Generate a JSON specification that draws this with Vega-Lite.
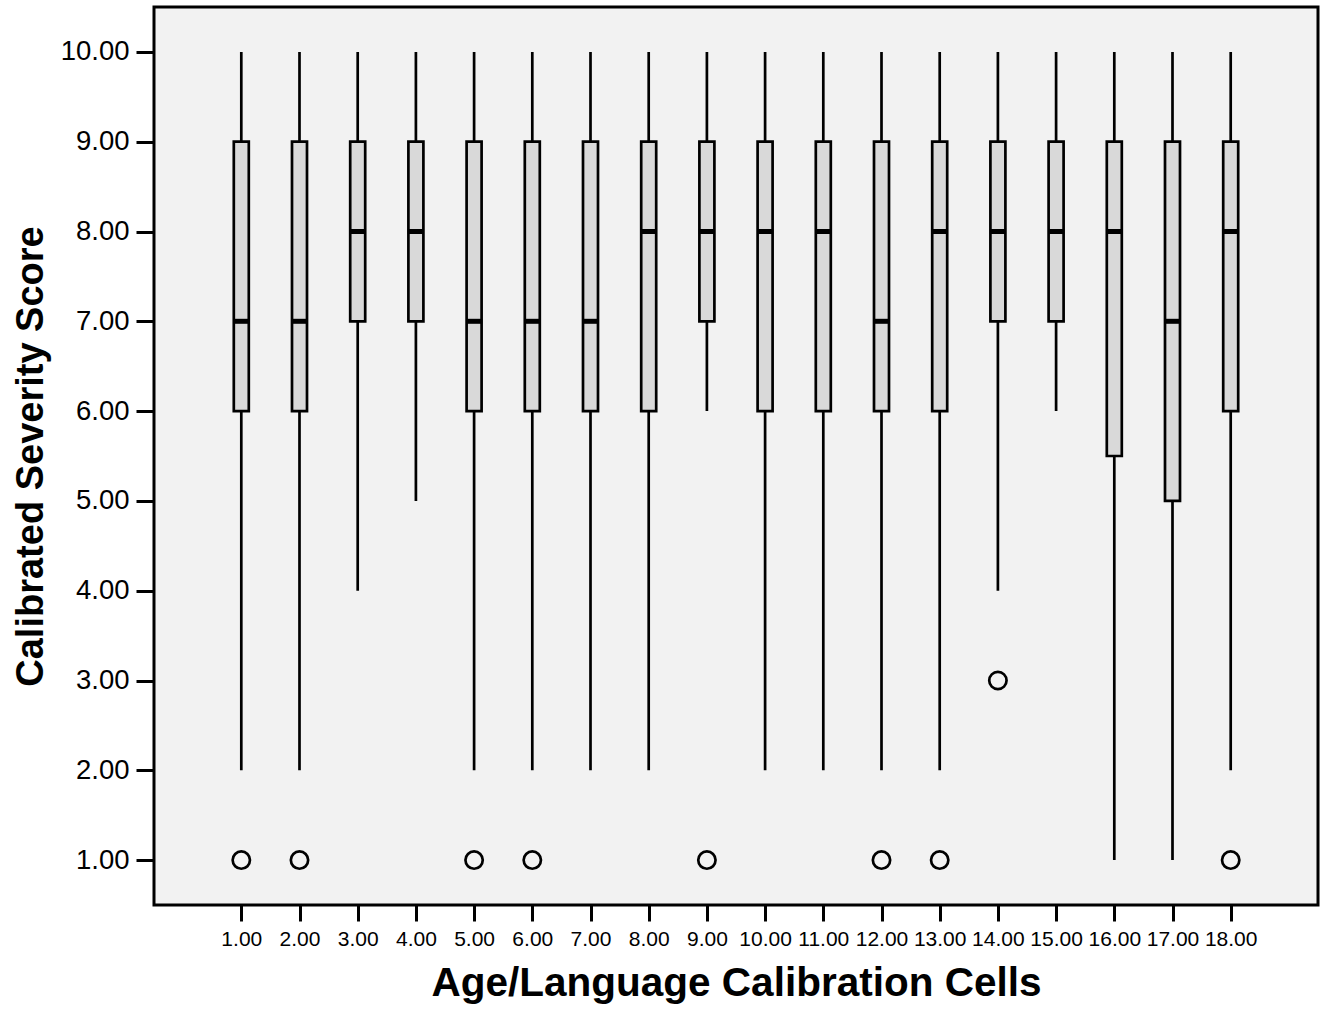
{
  "$schema": "https://vega.github.io/schema/vega-lite/v6.json",
  "width": 1164,
  "height": 898,
  "autosize": {"type": "none"},
  "padding": {"left": 154, "top": 7, "right": 8, "bottom": 105},
  "background": "white",
  "config": {
    "view": {"fill": "#f2f2f2", "stroke": "black", "strokeWidth": 3},
    "font": "Liberation Sans",
    "axis": {
      "domain": false,
      "grid": false,
      "labelColor": "black",
      "titleColor": "black",
      "tickColor": "black",
      "tickWidth": 3,
      "labelFont": "Liberation Sans",
      "titleFont": "Liberation Sans",
      "titleFontWeight": "bold"
    }
  },
  "datasets": {
    "boxes": [
      {"cell": 1, "low": 2, "q1": 6, "median": 7, "q3": 9, "high": 10},
      {"cell": 2, "low": 2, "q1": 6, "median": 7, "q3": 9, "high": 10},
      {"cell": 3, "low": 4, "q1": 7, "median": 8, "q3": 9, "high": 10},
      {"cell": 4, "low": 5, "q1": 7, "median": 8, "q3": 9, "high": 10},
      {"cell": 5, "low": 2, "q1": 6, "median": 7, "q3": 9, "high": 10},
      {"cell": 6, "low": 2, "q1": 6, "median": 7, "q3": 9, "high": 10},
      {"cell": 7, "low": 2, "q1": 6, "median": 7, "q3": 9, "high": 10},
      {"cell": 8, "low": 2, "q1": 6, "median": 8, "q3": 9, "high": 10},
      {"cell": 9, "low": 6, "q1": 7, "median": 8, "q3": 9, "high": 10},
      {"cell": 10, "low": 2, "q1": 6, "median": 8, "q3": 9, "high": 10},
      {"cell": 11, "low": 2, "q1": 6, "median": 8, "q3": 9, "high": 10},
      {"cell": 12, "low": 2, "q1": 6, "median": 7, "q3": 9, "high": 10},
      {"cell": 13, "low": 2, "q1": 6, "median": 8, "q3": 9, "high": 10},
      {"cell": 14, "low": 4, "q1": 7, "median": 8, "q3": 9, "high": 10},
      {"cell": 15, "low": 6, "q1": 7, "median": 8, "q3": 9, "high": 10},
      {"cell": 16, "low": 1, "q1": 5.5, "median": 8, "q3": 9, "high": 10},
      {"cell": 17, "low": 1, "q1": 5, "median": 7, "q3": 9, "high": 10},
      {"cell": 18, "low": 2, "q1": 6, "median": 8, "q3": 9, "high": 10}
    ],
    "outliers": [
      {"cell": 1, "score": 1},
      {"cell": 2, "score": 1},
      {"cell": 5, "score": 1},
      {"cell": 6, "score": 1},
      {"cell": 9, "score": 1},
      {"cell": 12, "score": 1},
      {"cell": 13, "score": 1},
      {"cell": 14, "score": 3},
      {"cell": 18, "score": 1}
    ]
  },
  "encoding": {
    "x": {
      "field": "cell",
      "type": "quantitative",
      "scale": {"domain": [-0.5, 19.5], "nice": false, "zero": false, "padding": 0},
      "axis": {
        "title": "Age/Language Calibration Cells",
        "values": [1, 2, 3, 4, 5, 6, 7, 8, 9, 10, 11, 12, 13, 14, 15, 16, 17, 18],
        "format": ".2f",
        "labelFontSize": 21,
        "tickSize": 16,
        "labelPadding": 7,
        "titleFontSize": 40.5,
        "titlePadding": 14,
        "labelOverlap": false,
        "labelFlush": false
      }
    }
  },
  "layer": [
    {
      "data": {"name": "boxes"},
      "mark": {"type": "rule", "stroke": "black", "strokeWidth": 2.7},
      "encoding": {
        "y": {
          "field": "low",
          "type": "quantitative",
          "scale": {"domain": [0.5, 10.5], "nice": false, "zero": false, "padding": 0},
          "axis": {
            "title": "Calibrated Severity Score",
            "values": [1, 2, 3, 4, 5, 6, 7, 8, 9, 10],
            "format": ".2f",
            "labelFontSize": 27.5,
            "tickSize": 18,
            "labelPadding": 7,
            "titleFontSize": 38,
            "titlePadding": 10
          }
        },
        "y2": {"field": "high"}
      }
    },
    {
      "data": {"name": "boxes"},
      "mark": {"type": "bar", "width": 15, "fill": "#d9d9d9", "stroke": "black", "strokeWidth": 2.7},
      "encoding": {
        "y": {"field": "q1", "type": "quantitative"},
        "y2": {"field": "q3"}
      }
    },
    {
      "data": {"name": "boxes"},
      "mark": {"type": "tick", "orient": "horizontal", "color": "black", "thickness": 5, "size": 16, "opacity": 1},
      "encoding": {
        "y": {"field": "median", "type": "quantitative"}
      }
    },
    {
      "data": {"name": "outliers"},
      "mark": {"type": "point", "shape": "circle", "filled": false, "size": 300, "stroke": "black", "strokeWidth": 2.7, "opacity": 1},
      "encoding": {
        "y": {"field": "score", "type": "quantitative"}
      }
    }
  ]
}
